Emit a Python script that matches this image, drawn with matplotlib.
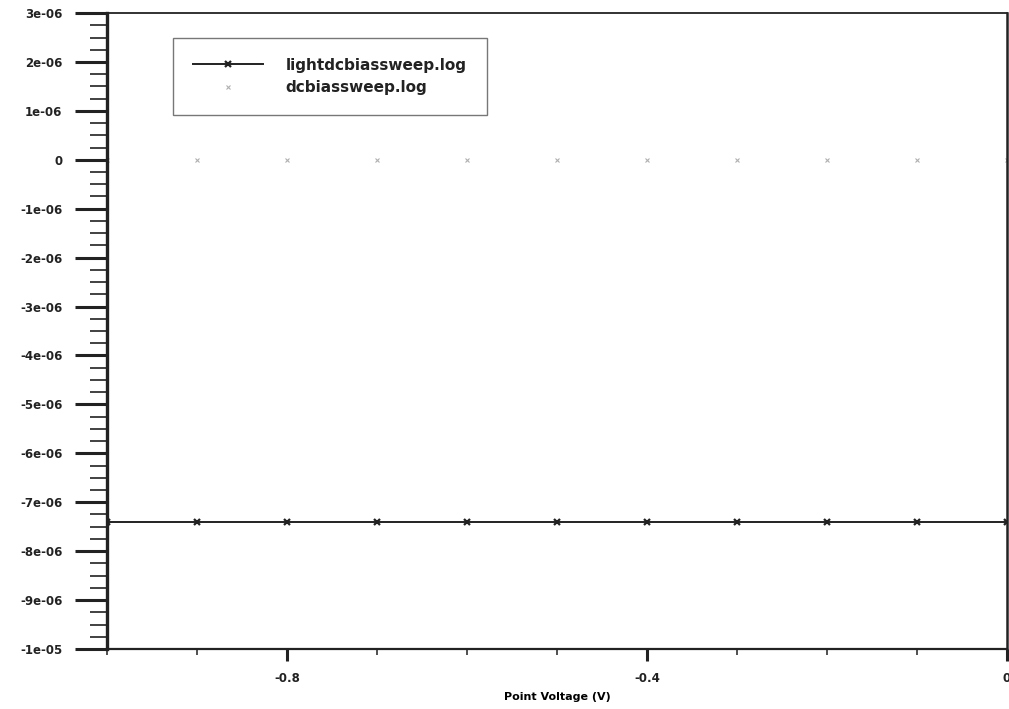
import numpy as np
import matplotlib
matplotlib.use('Agg')
import matplotlib.pyplot as plt
from matplotlib.ticker import MultipleLocator, FuncFormatter

# Sweep voltages and the two measured currents
voltage = [-1.0, -0.9, -0.8, -0.7, -0.6, -0.5, -0.4, -0.3, -0.2, -0.1, 0.0]
light_current = [-7.4e-06, -7.4e-06, -7.4e-06, -7.4e-06, -7.4e-06, -7.4e-06,
                 -7.4e-06, -7.4e-06, -7.4e-06, -7.4e-06, -7.4e-06]
dark_current = [0.0, 0.0, 0.0, 0.0, 0.0, 0.0, 0.0, 0.0, 0.0, 0.0, 0.0]

labels = ['lightdcbiassweep.log', 'dcbiassweep.log']


def y_fmt(v, pos):
    if abs(v) < 1e-12:
        return '0'
    return f'{v:.0e}'


def x_fmt(v, pos):
    if abs(v) < 1e-9:
        return '0'
    return f'{v:.1f}'


fig = plt.figure(figsize=(10.09, 7.09), dpi=100)
ax = fig.add_axes([0.106, 0.0846, 0.892, 0.897])

ax.plot(voltage, light_current, color='#222222', lw=1.4, marker='x',
        markersize=5, markeredgewidth=1.6, label=labels[0])
ax.plot(voltage, dark_current, color='#b0b0b0', lw=0, marker='x',
        markersize=3, markeredgewidth=0.8, label=labels[1])

ax.set_xlim(-1.0, 0.0)
ax.set_ylim(-1e-05, 3e-06)

ax.xaxis.set_major_locator(MultipleLocator(0.4))
ax.xaxis.set_minor_locator(MultipleLocator(0.1))
ax.yaxis.set_major_locator(MultipleLocator(1e-06))
ax.yaxis.set_minor_locator(MultipleLocator(0.25e-06))
ax.yaxis.set_major_formatter(FuncFormatter(y_fmt))
ax.xaxis.set_major_formatter(FuncFormatter(x_fmt))

ax.tick_params(axis='y', which='major', direction='out', length=23, width=2.2,
               pad=9, labelsize=8.5, colors='#222222')
ax.tick_params(axis='y', which='minor', direction='out', length=12, width=1.3,
               colors='#333333')
ax.tick_params(axis='x', which='major', direction='out', length=8.5, width=2.2,
               pad=8, labelsize=8.5, colors='#222222')
ax.tick_params(axis='x', which='minor', direction='out', length=4.5, width=1.2,
               colors='#333333')
for lab in ax.get_xticklabels() + ax.get_yticklabels():
    lab.set_fontweight('bold')

ax.spines['left'].set_linewidth(2.4)
ax.spines['bottom'].set_linewidth(1.6)
ax.spines['top'].set_linewidth(1.3)
ax.spines['right'].set_linewidth(1.8)
for sp in ax.spines.values():
    sp.set_color('#222222')

ax.set_xlabel('Point Voltage (V)', fontsize=8, fontweight='bold', labelpad=5)

leg = ax.legend(loc='upper left', bbox_to_anchor=(0.073, 0.961), fancybox=False,
                framealpha=1, edgecolor='#777777',
                prop={'size': 11, 'weight': 'bold'}, handlelength=4.6,
                handletextpad=1.5, borderpad=1.3, labelspacing=0.5,
                borderaxespad=0)
leg.get_frame().set_linewidth(1.0)
for t in leg.get_texts():
    t.set_color('#222222')

fig.savefig('out.png', dpi=100)
